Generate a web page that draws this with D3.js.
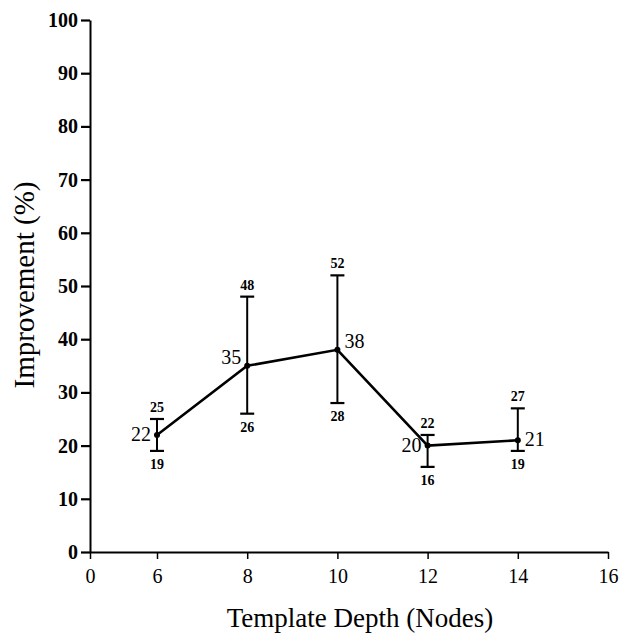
<!DOCTYPE html>
<html><head><meta charset="utf-8">
<script src="https://cdn.jsdelivr.net/npm/d3@7"></script>
<style>body{margin:0;background:#fff;} svg{display:block;}</style>
</head><body>
<svg id="c" width="633" height="641"></svg>
<script>
const depth = [6, 8, 10, 12, 14];
const improvement = [22, 35, 38, 20, 21];
const upper = [25, 48, 52, 22, 27];
const lower = [19, 26, 28, 16, 19];
const xTicks = [0, 6, 8, 10, 12, 14, 16];
const yTicks = [0, 10, 20, 30, 40, 50, 60, 70, 80, 90, 100];
const labelSide = ["left", "left", "right", "left", "right"];

const svg = d3.select("#c");
const font = "'Liberation Serif', 'Times New Roman', serif";
const x = d3.scaleLinear().domain([0, 6, 16]).range([90, 157, 608]);
const y = d3.scaleLinear().domain([0, 100]).range([552, 20]);

// Y axis
const yAx = svg.append("g").attr("transform", "translate(90,0)")
  .call(d3.axisLeft(y).tickValues(yTicks).tickSize(9).tickPadding(3).tickSizeOuter(0));
yAx.select(".domain").attr("stroke-width", 2);
yAx.selectAll(".tick line").attr("stroke-width", 2.2);
yAx.selectAll("text").attr("font-family", font).attr("font-size", 20).attr("font-weight", "bold").attr("dy", "0.32em");

// X axis
const xAx = svg.append("g").attr("transform", "translate(0,552)")
  .call(d3.axisBottom(x).tickValues(xTicks).tickSize(7).tickPadding(10).tickSizeOuter(0));
xAx.select(".domain").attr("stroke-width", 2.2);
xAx.selectAll(".tick line").attr("stroke-width", 1.5);
xAx.selectAll("text").attr("font-family", font).attr("font-size", 20);

// Titles
svg.append("text").attr("x", 360).attr("y", 627).attr("text-anchor", "middle")
  .attr("font-family", font).attr("font-size", 27).text("Template Depth (Nodes)");
svg.append("text").attr("transform", "translate(34,285) rotate(-90)").attr("text-anchor", "middle")
  .attr("font-family", font).attr("font-size", 29).text("Improvement (%)");

// Line
svg.append("path").datum(depth.map((d, i) => [d, improvement[i]]))
  .attr("fill", "none").attr("stroke", "#000").attr("stroke-width", 2.6)
  .attr("d", d3.line().x(d => x(d[0])).y(d => y(d[1])));

// Error bars
const g = svg.append("g");
depth.forEach((d, i) => {
  const cx = x(d);
  g.append("line").attr("x1", cx).attr("x2", cx).attr("y1", y(upper[i])).attr("y2", y(lower[i]))
    .attr("stroke", "#000").attr("stroke-width", 2);
  [upper[i], lower[i]].forEach(v => {
    g.append("line").attr("x1", cx - 7).attr("x2", cx + 7).attr("y1", y(v)).attr("y2", y(v))
      .attr("stroke", "#000").attr("stroke-width", 2.2);
  });
  g.append("circle").attr("cx", cx).attr("cy", y(improvement[i])).attr("r", 3).attr("fill", "#000");
  g.append("text").attr("x", cx).attr("y", y(upper[i]) - 7).attr("text-anchor", "middle")
    .attr("font-family", font).attr("font-size", 14).attr("font-weight", "bold").text(upper[i]);
  g.append("text").attr("x", cx).attr("y", y(lower[i]) + 18).attr("text-anchor", "middle")
    .attr("font-family", font).attr("font-size", 14).attr("font-weight", "bold").text(lower[i]);
  const left = labelSide[i] === "left";
  g.append("text").attr("x", left ? cx - 6 : cx + 7).attr("y", y(improvement[i]) - 1)
    .attr("text-anchor", left ? "end" : "start").attr("dy", i === 1 || i === 2 ? "-0.05em" : "0.35em")
    .attr("font-family", font).attr("font-size", 20).text(improvement[i]);
});
</script>
</body></html>
